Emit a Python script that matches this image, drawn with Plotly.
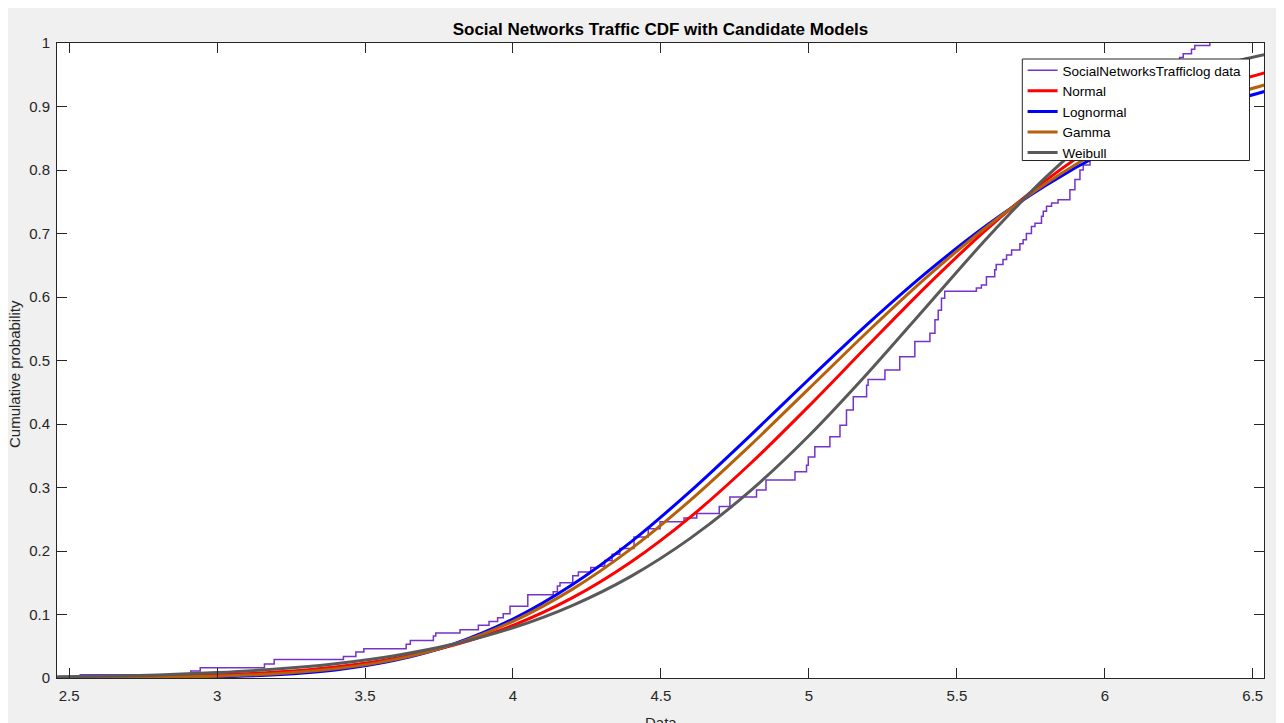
import plotly.graph_objects as go

# ---------------- data ----------------
ecdf_x = [2.535, 2.911, 2.943, 3.160, 3.193, 3.427, 3.469, 3.496, 3.639, 3.653,
          3.731, 3.739, 3.821, 3.883, 3.919, 3.948, 3.967, 3.990, 4.050, 4.136,
          4.150, 4.159, 4.202, 4.221, 4.263, 4.288, 4.310, 4.335, 4.361, 4.409,
          4.457, 4.497, 4.578, 4.621, 4.697, 4.733, 4.823, 4.855, 4.953, 4.992,
          4.998, 5.020, 5.071, 5.105, 5.127, 5.150, 5.195, 5.200, 5.257, 5.307,
          5.358, 5.409, 5.426, 5.437, 5.448, 5.459, 5.566, 5.583, 5.600, 5.628,
          5.633, 5.656, 5.668, 5.685, 5.713, 5.724, 5.735, 5.752, 5.764, 5.786,
          5.792, 5.803, 5.820, 5.842, 5.882, 5.899, 5.916, 5.927, 5.950, 6.010,
          6.100, 6.200, 6.253, 6.265, 6.293, 6.304, 6.355]
ecdf_y = [0.005, 0.011, 0.016, 0.022, 0.029, 0.034, 0.041, 0.046, 0.053, 0.059,
          0.066, 0.071, 0.076, 0.083, 0.089, 0.095, 0.101, 0.113, 0.131, 0.136,
          0.145, 0.150, 0.161, 0.167, 0.174, 0.176, 0.185, 0.195, 0.204, 0.222,
          0.235, 0.246, 0.252, 0.259, 0.270, 0.285, 0.296, 0.312, 0.325, 0.335,
          0.348, 0.364, 0.380, 0.398, 0.422, 0.443, 0.461, 0.470, 0.485, 0.506,
          0.530, 0.543, 0.564, 0.579, 0.598, 0.609, 0.614, 0.619, 0.632, 0.643,
          0.651, 0.659, 0.666, 0.674, 0.684, 0.690, 0.700, 0.711, 0.716, 0.727,
          0.735, 0.743, 0.748, 0.753, 0.769, 0.785, 0.800, 0.808, 0.830, 0.870,
          0.920, 0.960, 0.977, 0.983, 0.990, 0.996, 1.000]

fit_x = [2.46, 2.6, 2.8, 3.0, 3.2, 3.4, 3.6, 3.8, 4.0, 4.2, 4.4,
         4.6, 4.8, 5.0, 5.2, 5.4, 5.6, 5.8, 6.0, 6.2, 6.4, 6.54]
normal_y = [0.0006, 0.0011, 0.0023, 0.0048, 0.0094, 0.0175, 0.0309, 0.0519,
            0.0829, 0.1261, 0.1831, 0.2537, 0.3366, 0.4282, 0.5239, 0.6183,
            0.7061, 0.7833, 0.8471, 0.8971, 0.9340, 0.9530]
lognormal_y = [0.0000, 0.0001, 0.0005, 0.0017, 0.0050, 0.0127, 0.0278, 0.0536,
               0.0928, 0.1468, 0.2148, 0.2943, 0.3810, 0.4705, 0.5580, 0.6395,
               0.7126, 0.7758, 0.8284, 0.8710, 0.9047, 0.9236]
gamma_y = [0.0002, 0.0004, 0.0011, 0.0028, 0.0066, 0.0144, 0.0289, 0.0530,
           0.0893, 0.1396, 0.2037, 0.2801, 0.3655, 0.4557, 0.5461, 0.6321,
           0.7103, 0.7784, 0.8350, 0.8801, 0.9150, 0.9339]
weibull_y = [0.0018, 0.0027, 0.0049, 0.0085, 0.0141, 0.0226, 0.0352, 0.0535,
             0.0791, 0.1141, 0.1605, 0.2203, 0.2939, 0.3815, 0.4807, 0.5863,
             0.6917, 0.7883, 0.8686, 0.9278, 0.9659, 0.9818]

x_ticks = [2.5, 3, 3.5, 4, 4.5, 5, 5.5, 6, 6.5]
x_ticklabels = ["2.5", "3", "3.5", "4", "4.5", "5", "5.5", "6", "6.5"]
y_ticks = [0, 0.1, 0.2, 0.3, 0.4, 0.5, 0.6, 0.7, 0.8, 0.9, 1]
y_ticklabels = ["0", "0.1", "0.2", "0.3", "0.4", "0.5", "0.6", "0.7", "0.8", "0.9", "1"]

series_names = ["SocialNetworksTrafficlog data", "Normal", "Lognormal", "Gamma", "Weibull"]

# ---------------- figure ----------------
# the page body adds an 8 px offset (the white strip at top/left of the window)
OFF = 8
W, H = 1284 - OFF, 723 - OFF
# plot area in window pixels: x 57..1264.5, y 43.3..677.7
ML = 57 - OFF
MT = 43.3 - OFF
MR = W - (1264.5 - OFF)
MB = H - (677.7 - OFF)
PW, PH = W - ML - MR, H - MT - MB
FONT = "Liberation Sans, Arial, Helvetica, sans-serif"
AX = "#262626"


def px2x(px):  # window x pixel -> paper x
    return (px - OFF - ML) / PW


def py2y(py):  # window y pixel -> paper y
    return (H - MB - (py - OFF)) / PH


fig = go.Figure()
fig.add_trace(go.Scatter(x=ecdf_x, y=ecdf_y, mode="lines", name=series_names[0],
                         line=dict(color="#7433c9", width=1.5, shape="hv")))
fit_styles = [("#ff0000", normal_y), ("#0000ff", lognormal_y),
              ("#b5600a", gamma_y), ("#595959", weibull_y)]
for name, (col, ys) in zip(series_names[1:], fit_styles):
    fig.add_trace(go.Scatter(x=fit_x, y=ys, mode="lines", name=name,
                             line=dict(color=col, width=3, shape="spline", smoothing=0.8)))

axis_common = dict(
    showline=True, linecolor=AX, linewidth=1, mirror="ticks",
    ticks="inside", ticklen=10, tickwidth=1, tickcolor=AX,
    showgrid=False, zeroline=False,
    tickfont=dict(family=FONT, size=15, color=AX),
)
fig.update_xaxes(range=[2.459, 6.538], tickmode="array", tickvals=x_ticks,
                 ticktext=x_ticklabels, ticklabelstandoff=4, **axis_common)
fig.update_yaxes(range=[0, 1], tickmode="array", tickvals=y_ticks,
                 ticktext=y_ticklabels, ticklabelstandoff=3, **axis_common)

# legend frame (drawn as a box so its size matches the reference)
shapes = [
    dict(type="rect", xref="paper", yref="paper",
         x0=px2x(1022.7), x1=px2x(1250), y0=py2y(160.7), y1=py2y(59.3),
         fillcolor="white", line=dict(color=AX, width=1), layer="above"),
]

annotations = [
    dict(text="Cumulative probability", xref="paper", yref="paper",
         x=px2x(14), y=py2y(374), xanchor="center", yanchor="middle",
         textangle=-90, showarrow=False, font=dict(family=FONT, size=15, color=AX)),
    dict(text="Data", xref="paper", yref="paper",
         x=px2x(661), y=py2y(722), xanchor="center", yanchor="middle",
         showarrow=False, font=dict(family=FONT, size=15, color=AX)),
]

fig.update_layout(
    width=W, height=H,
    margin=dict(l=ML, r=MR, t=MT, b=MB, pad=0),
    paper_bgcolor="#f0f0f0", plot_bgcolor="white",
    title=dict(text="Social Networks Traffic CDF with Candidate Models",
               x=0.5, xref="paper", xanchor="center",
               y=1 - (29 - OFF) / H, yref="container", yanchor="middle",
               font=dict(family=FONT, size=17, color="#000000", weight="bold")),
    legend=dict(x=px2x(1023), y=py2y(55.3), xanchor="left", yanchor="top",
                bgcolor="rgba(0,0,0,0)", borderwidth=0,
                font=dict(family=FONT, size=13.5, color="#000000"),
                tracegroupgap=0),
    showlegend=True,
    shapes=shapes,
    annotations=annotations,
)

fig.write_html("out.html")
